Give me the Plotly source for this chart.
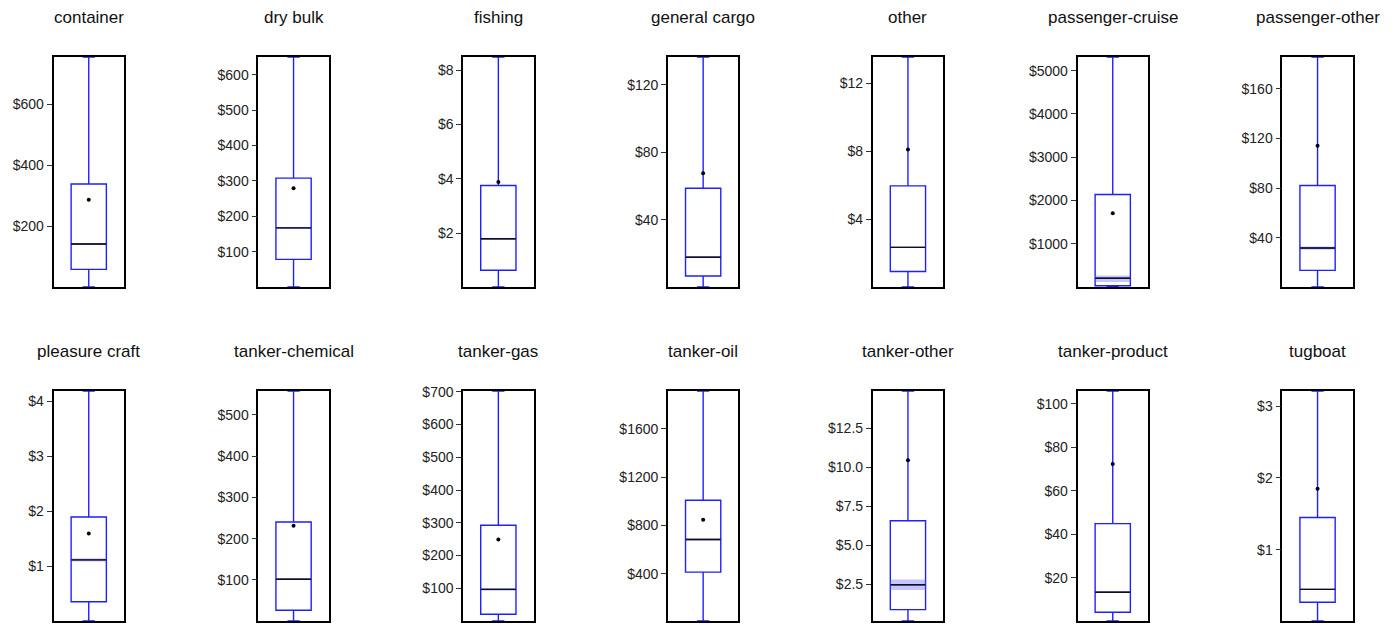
import plotly.graph_objects as go

# Vessel categories and their per-category cost summary statistics (USD)
categories = ["container", "dry bulk", "fishing", "general cargo", "other",
              "passenger-cruise", "passenger-other", "pleasure craft",
              "tanker-chemical", "tanker-gas", "tanker-oil", "tanker-other",
              "tanker-product", "tugboat"]
v_min = [0, 0, 0.01, 0.2, 0.02, 2, 0.3, 0.01, 0.5, 0.5, 8, 0.15, 0.2, 0.01]
v_q1 = [58, 78, 0.63, 6.7, 0.93, 30, 13.7, 0.36, 26.5, 21, 413, 0.88, 4.2, 0.27]
v_median = [141, 167, 1.79, 17.8, 2.35, 205, 31.7, 1.12, 101.7, 97, 684, 2.48, 13.4, 0.45]
v_q3 = [338, 307.6, 3.75, 58.7, 5.96, 2139, 82.1, 1.90, 240.5, 292.7, 1009, 6.58, 44.9, 1.45]
v_max = [755, 650, 8.49, 136.5, 13.53, 5317, 185.6, 4.19, 558, 702, 1914, 14.91, 105.8, 3.21]
v_mean = [286, 279, 3.88, 67.6, 8.1, 1706, 114.1, 1.60, 231.6, 248.8, 847, 10.47, 72.3, 1.85]
# confidence band around the median
ci_lo = [139.5, 165.5, 1.77, 17.4, 2.31, 120, 30.3, 1.09, 100.5, 93, 679, 2.14, 13.1, 0.445]
ci_hi = [142.5, 168.5, 1.81, 18.2, 2.39, 270, 33.0, 1.15, 102.9, 101, 689, 2.82, 13.7, 0.455]

# y tick positions per panel
tick_vals = [[200, 400, 600], [100, 200, 300, 400, 500, 600], [2, 4, 6, 8],
             [40, 80, 120], [4, 8, 12], [1000, 2000, 3000, 4000, 5000],
             [40, 80, 120, 160], [1, 2, 3, 4], [100, 200, 300, 400, 500],
             [100, 200, 300, 400, 500, 600, 700], [400, 800, 1200, 1600],
             [2.5, 5, 7.5, 10, 12.5], [20, 40, 60, 80, 100], [1, 2, 3]]
tick_decimals = [0] * 11 + [1] + [0] * 2

W, H = 1397, 625
NCOL = 7
col_x0, col_step, frame_w = 53.5, 204.8, 70.5
row_top = [57, 391]
frame_h = 230

BLUE = "#1f1fff"
FONT = "Liberation Sans, Arial, sans-serif"

fig = go.Figure()
layout = dict(
    template="none",
    width=W, height=H, margin=dict(l=0, r=0, t=0, b=0, autoexpand=False),
    paper_bgcolor="white", plot_bgcolor="white", showlegend=False,
    font=dict(family=FONT, size=14, color="#222"),
)
annotations = []

for i, name in enumerate(categories):
    r, c = divmod(i, NCOL)
    k = "" if i == 0 else str(i + 1)
    xa, ya = "x" + k, "y" + k
    x0 = col_x0 + c * col_step
    top = row_top[r]
    labels = [f"${v:.{tick_decimals[i]}f}" for v in tick_vals[i]]
    layout["xaxis" + k] = dict(
        domain=[x0 / W, (x0 + frame_w) / W], range=[-1, 1], anchor=ya,
        showgrid=False, zeroline=False, showticklabels=False, ticks="",
        showline=True, mirror=True, linecolor="black", linewidth=1.6,
        automargin=False, fixedrange=True,
    )
    layout["yaxis" + k] = dict(
        domain=[1 - (top + frame_h) / H, 1 - top / H],
        range=[v_min[i], v_max[i]], anchor=xa,
        showgrid=False, zeroline=False,
        showline=True, mirror=True, linecolor="black", linewidth=1.6,
        ticks="outside", ticklen=5, tickwidth=1, tickcolor="#333",
        tickmode="array", tickvals=tick_vals[i], ticktext=labels,
        tickfont=dict(size=14, color="#222"),
        automargin=False, fixedrange=True,
    )

    # shaded band around the median
    fig.add_trace(go.Scatter(
        x=[-0.5, 0.5, 0.5, -0.5, -0.5],
        y=[ci_lo[i], ci_lo[i], ci_hi[i], ci_hi[i], ci_lo[i]],
        fill="toself", fillcolor="rgba(110,110,255,0.4)",
        line=dict(width=0), mode="lines", hoverinfo="skip",
        xaxis=xa, yaxis=ya,
    ))
    # box and whiskers
    fig.add_trace(go.Box(
        x=[0], q1=[v_q1[i]], median=[v_median[i]], q3=[v_q3[i]],
        lowerfence=[v_min[i]], upperfence=[v_max[i]],
        width=1.0, whiskerwidth=0.35, boxpoints=False,
        line=dict(color=BLUE, width=1.4), fillcolor="rgba(0,0,0,0)",
        name=name, xaxis=xa, yaxis=ya,
    ))
    # median line
    fig.add_trace(go.Scatter(
        x=[-0.5, 0.5], y=[v_median[i], v_median[i]], mode="lines",
        line=dict(color="#111", width=1.4), hoverinfo="skip",
        xaxis=xa, yaxis=ya,
    ))
    # mean marker
    fig.add_trace(go.Scatter(
        x=[0], y=[v_mean[i]], mode="markers",
        marker=dict(color="black", size=4, line=dict(width=0)),
        xaxis=xa, yaxis=ya,
    ))

    annotations.append(dict(
        text=name, xref="paper", yref="paper",
        x=(x0 + frame_w / 2) / W, y=1 - (top - 40) / H,
        xanchor="center", yanchor="middle", showarrow=False,
        font=dict(family=FONT, size=17, color="#111"),
    ))

layout["annotations"] = annotations
fig.update_layout(**layout)
fig.write_html("out.html")
